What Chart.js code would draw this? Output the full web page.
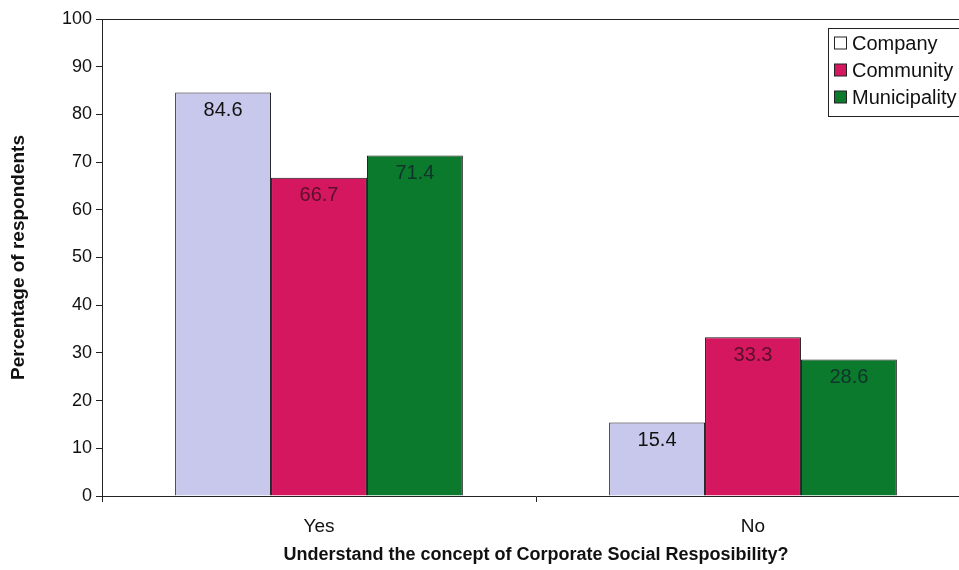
<!DOCTYPE html>
<html>
<head>
<meta charset="utf-8">
<script src="https://cdn.jsdelivr.net/npm/chart.js@4.4.1/dist/chart.umd.min.js"></script>
<style>
html,body{margin:0;padding:0;background:#fff;overflow:hidden;width:959px;height:570px;}
#wrap{position:absolute;left:0;top:0;width:971px;height:570px;}
</style>
</head>
<body>
<div id="wrap"><canvas id="c" width="971" height="570"></canvas></div>
<script>
const categories = ["Yes", "No"];
const seriesNames = ["Company", "Community", "Municipality"];
const company = [84.6, 15.4];
const community = [66.7, 33.3];
const municipality = [71.4, 28.6];
const yTicks = [0, 10, 20, 30, 40, 50, 60, 70, 80, 90, 100];
const xTitle = "Understand the concept of Corporate Social Resposibility?";
const yTitle = "Percentage of respondents";

const fillColors = ["#c8c8ec", "#d4175e", "#0b7a2d"];
const swatchColors = ["#ffffff", "#d4175e", "#0b7a2d"];
const labelColors = ["#111111", "#5a0f2a", "#10332a"];
const FONT = "'Liberation Sans', Arial, sans-serif";

const labelPlugin = {
  id: 'barLabels',
  afterDatasetsDraw(chart) {
    const ctx = chart.ctx;
    ctx.save();
    ctx.font = "20px " + FONT;
    ctx.textAlign = 'center';
    ctx.textBaseline = 'middle';
    chart.data.datasets.forEach((ds, i) => {
      const meta = chart.getDatasetMeta(i);
      meta.data.forEach((bar, j) => {
        ctx.fillStyle = labelColors[i];
        ctx.fillText(ds.data[j].toFixed(1), bar.x, bar.y + 18);
      });
    });
    ctx.restore();
  }
};

const framePlugin = {
  id: 'frame',
  afterDraw(chart) {
    const ctx = chart.ctx;
    const a = chart.chartArea;
    ctx.save();
    ctx.strokeStyle = '#222';
    ctx.lineWidth = 1;
    ctx.beginPath();
    ctx.moveTo(a.left, a.top + 0.5);
    ctx.lineTo(a.right, a.top + 0.5);
    ctx.stroke();
    // legend box
    const bx = 828.5, by = 28.5, bw = 160, bh = 88;
    ctx.fillStyle = '#fff';
    ctx.fillRect(bx, by, bw, bh);
    ctx.strokeStyle = '#222';
    ctx.strokeRect(bx, by, bw, bh);
    ctx.font = "20px " + FONT;
    ctx.textBaseline = 'middle';
    ctx.textAlign = 'left';
    seriesNames.forEach((name, i) => {
      const cy = 43 + i * 27;
      ctx.fillStyle = swatchColors[i];
      ctx.fillRect(834.5, cy - 6, 12, 12);
      ctx.strokeStyle = '#222';
      ctx.strokeRect(834.5, cy - 6, 12, 12);
      ctx.fillStyle = '#111';
      ctx.fillText(name, 852, cy + 1);
    });
    ctx.restore();
  }
};

new Chart(document.getElementById('c'), {
  type: 'bar',
  data: {
    labels: categories,
    datasets: [company, community, municipality].map((d, i) => ({
      label: seriesNames[i],
      data: d,
      backgroundColor: fillColors[i],
      borderColor: '#1a1a1a',
      borderWidth: 1,
      categoryPercentage: 0.663,
      barPercentage: 1.0
    }))
  },
  options: {
    responsive: false,
    animation: false,
    devicePixelRatio: 1,
    layout: { padding: { top: 19, right: 1, left: 0, bottom: 0 } },
    plugins: { legend: { display: false }, tooltip: { enabled: false } },
    scales: {
      x: {
        offset: true,
        grid: { offset: true, drawOnChartArea: false, tickLength: 6, color: '#222', tickColor: '#222' },
        border: { color: '#222', width: 1 },
        ticks: { color: '#111', font: { family: FONT, size: 19 }, padding: 13 },
        title: { display: true, text: xTitle, color: '#111', font: { family: FONT, size: 18, weight: 'bold' }, padding: { top: 0, bottom: 4 } },
        afterFit(scale) { scale.height = 74; }
      },
      y: {
        min: 0, max: 100,
        afterBuildTicks(scale) { scale.ticks = yTicks.map(v => ({ value: v })); },
        grid: { drawOnChartArea: false, tickLength: 6, color: '#222', tickColor: '#222' },
        border: { color: '#222', width: 1 },
        ticks: { color: '#111', font: { family: FONT, size: 18 }, padding: 4 },
        title: { display: true, text: yTitle, color: '#111', font: { family: FONT, size: 19, weight: 'bold' }, padding: { top: 7, bottom: 0 } },
        afterFit(scale) { scale.width = 102; }
      }
    }
  },
  plugins: [labelPlugin, framePlugin]
});
</script>
</body>
</html>
